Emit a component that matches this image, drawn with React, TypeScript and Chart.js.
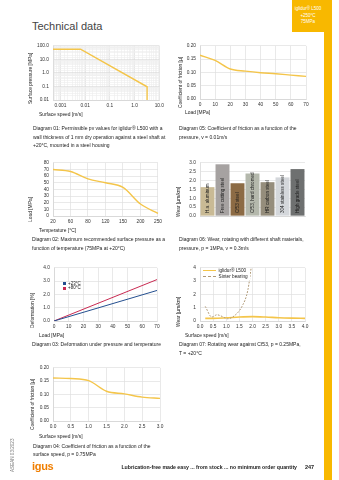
import React, { useEffect, useRef } from 'react';
import { Chart, registerables } from 'chart.js';

Chart.register(...registerables);

const FONT = '"Liberation Sans", Arial, Helvetica, sans-serif';

// ---------------- data ----------------
// Diagram 01: pv limits (log-log)
const d01Speed = [0.0005, 0.0065, 3.2, 3.2];
const d01Pressure = [57, 57, 0.095, 0.01];
const d01XTickLabels = ['0.001', '0.01', '0.1', '1.0', '10.0'];
const d01YTickLabels = ['0.01', '0.1', '1.0', '10.0', '100.0'];

// Diagram 05: coefficient of friction vs load
const d05Load = [0, 10, 20, 30, 40, 50, 60, 70];
const d05Cof = [0.165, 0.145, 0.113, 0.105, 0.099, 0.095, 0.09, 0.085];

// Diagram 02: max pressure vs temperature
const d02Temp = ['20', '60', '80', '120', '150', '200', '250'];
const d02Load = [70, 67, 56, 50, 43, 18, 4];

// Diagram 06: wear with shaft materials
const d06Materials = ['H.a. aluminum', 'Free cutting steel', 'Cf53 steel', 'Cf53, hard chromed', 'HR carbon steel', '304 stainless steel', 'High grade steel'];
const d06Wear = [1.63, 2.92, 1.85, 2.4, 1.91, 2.18, 2.65];
const d06Colors = ['#c9ba95', '#a6a2a1', '#8c6b45', '#b4b8ac', '#958d7c', '#d4d7db', '#6e7070'];

// Diagram 03: deformation
const d03Load = [0, 70];
const d03Def23 = [0, 2.3];
const d03Def80 = [0, 3.12];
const d03Series = ['+23°C', '+80°C'];

// Diagram 07: rotating wear
const d07SpeedL500 = [0.2, 0.5, 1.0, 1.5, 2.0, 2.5, 3.0, 3.5, 4.0];
const d07WearL500 = [0.2, 0.2, 0.24, 0.3, 0.33, 0.3, 0.25, 0.22, 0.2];
const d07SpeedSinter = [0.2, 0.45, 0.65, 0.8, 1.05, 1.3, 1.6, 1.82, 1.97];
const d07WearSinter = [1.1, 0.3, 0.47, 0.38, 0.17, 0.38, 1.1, 2.3, 4.3];
const d07Series = ['iglidur® L500', 'Sinter bearing'];

// Diagram 04: cof vs speed
const d04Speed = [0, 0.5, 1.0, 1.5, 2.0, 2.5, 3.0];
const d04Cof = [0.162, 0.16, 0.152, 0.112, 0.102, 0.09, 0.085];

// ---------------- styling ----------------
const YEL = '#f4c54a';
const GRID = '#e0e0e0';
const TICKC = '#333333';
const tickFont = { family: FONT, size: 4.8 };
const YW = 22;
const XH = 10;
const PT = 5;
const PR = 7;

type Rect = { L: number; T: number; R: number; B: number };

function axis(isY: boolean, o: any = {}) {
  const { ticks = {}, grid = {}, ...rest } = o;
  return {
    grid: { color: GRID, lineWidth: 0.7, drawTicks: false, ...grid },
    border: { color: '#d2d2d2', width: 0.7 },
    ticks: { font: tickFont, color: TICKC, padding: isY ? 4 : 3, autoSkip: false, maxRotation: 0, ...ticks },
    afterFit: (s: any) => {
      if (isY) s.width = YW;
      else s.height = XH;
    },
    ...rest,
  };
}

function ChartBox({ rect, build }: { rect: Rect; build: () => any }) {
  const ref = useRef<HTMLCanvasElement>(null);
  const left = rect.L - YW;
  const top = rect.T - PT;
  const w = rect.R + PR - left;
  const h = rect.B + XH - top;
  useEffect(() => {
    const cfg = build();
    cfg.options = {
      ...(cfg.options || {}),
      responsive: false,
      animation: false,
      devicePixelRatio: 1,
      layout: { padding: { left: 0, top: PT, right: PR, bottom: 0 } },
      plugins: { legend: { display: false }, tooltip: { enabled: false } },
    };
    const c = new Chart(ref.current as HTMLCanvasElement, cfg);
    return () => c.destroy();
  }, []);
  return <canvas ref={ref} width={w} height={h} style={{ position: 'absolute', left, top, width: w, height: h }} />;
}

const pts = (xs: number[], ys: number[]) => xs.map((x, i) => ({ x, y: ys[i] }));
const isPow10 = (v: number) => Math.abs(Math.log10(v) - Math.round(Math.log10(v))) < 1e-6;
const labelFor = (list: string[], v: number) => {
  const f = list.find((l) => Math.abs(parseFloat(l) - v) / v < 1e-6);
  return f ?? '';
};

const yellowLine = (data: any, smooth = true) => ({
  data,
  borderColor: YEL,
  borderWidth: 1.4,
  pointRadius: 0,
  fill: false,
  cubicInterpolationMode: smooth ? 'monotone' : 'default',
  tension: 0,
});

// ---------------- chart builders ----------------
const build01 = () => ({
  type: 'line',
  data: { datasets: [yellowLine(pts(d01Speed, d01Pressure), false)] },
  options: {
    scales: {
      x: axis(false, {
        type: 'logarithmic', min: 0.0005, max: 10,
        grid: { color: (c: any) => (isPow10(c.tick.value) ? '#dcdcdc' : '#efefef') },
        ticks: { callback: (v: number) => labelFor(d01XTickLabels, v) },
      }),
      y: axis(true, {
        type: 'logarithmic', min: 0.01, max: 100,
        grid: { color: (c: any) => (isPow10(c.tick.value) ? '#dcdcdc' : '#efefef') },
        ticks: { callback: (v: number) => labelFor(d01YTickLabels, v) },
      }),
    },
  },
});

const build05 = () => ({
  type: 'line',
  data: { datasets: [yellowLine(pts(d05Load, d05Cof))] },
  options: {
    scales: {
      x: axis(false, { type: 'linear', min: 0, max: 70, ticks: { stepSize: 10 } }),
      y: axis(true, { min: 0, max: 0.2, ticks: { stepSize: 0.05, callback: (v: number) => v.toFixed(2) } }),
    },
  },
});

const build02 = () => ({
  type: 'line',
  data: { labels: d02Temp, datasets: [yellowLine(d02Load)] },
  options: {
    scales: {
      x: axis(false, { type: 'category', offset: false }),
      y: axis(true, { min: 0, max: 80, ticks: { stepSize: 10 } }),
    },
  },
});

const barLabelPlugin = {
  id: 'barLabels',
  afterDatasetsDraw(chart: any) {
    const ctx = chart.ctx;
    const meta = chart.getDatasetMeta(0);
    ctx.save();
    ctx.font = `4.6px ${FONT}`;
    ctx.fillStyle = '#1a1a1a';
    ctx.textBaseline = 'middle';
    ctx.textAlign = 'left';
    meta.data.forEach((bar: any, i: number) => {
      ctx.save();
      ctx.translate(bar.x, chart.chartArea.bottom - 3);
      ctx.rotate(-Math.PI / 2);
      ctx.fillText(chart.data.labels[i], 0, 0);
      ctx.restore();
    });
    ctx.restore();
  },
};

const build06 = () => ({
  type: 'bar',
  data: {
    labels: d06Materials,
    datasets: [{ data: d06Wear, backgroundColor: d06Colors, barPercentage: 0.93, categoryPercentage: 1 }],
  },
  options: {
    scales: {
      x: axis(false, { grid: { display: false }, ticks: { display: false } }),
      y: axis(true, { min: 0, max: 3, ticks: { stepSize: 0.5, callback: (v: number) => v.toFixed(1) } }),
    },
  },
  plugins: [barLabelPlugin],
});

const build03 = () => ({
  type: 'line',
  data: {
    datasets: [
      { data: pts(d03Load, d03Def23), borderColor: '#244f8f', borderWidth: 1, pointRadius: 0, tension: 0 },
      { data: pts(d03Load, d03Def80), borderColor: '#c92a52', borderWidth: 1, pointRadius: 0, tension: 0 },
    ],
  },
  options: {
    scales: {
      x: axis(false, { type: 'linear', min: 0, max: 70, ticks: { stepSize: 10 } }),
      y: axis(true, { min: 0, max: 4, ticks: { stepSize: 1, callback: (v: number) => v.toFixed(1) } }),
    },
  },
});

const build07 = () => ({
  type: 'line',
  data: {
    datasets: [
      { data: pts(d07SpeedSinter, d07WearSinter), borderColor: '#b09a78', borderWidth: 1, borderDash: [1.8, 1.4], pointRadius: 0, cubicInterpolationMode: 'monotone' },
      { ...yellowLine(pts(d07SpeedL500, d07WearL500)), borderWidth: 1.6 },
    ],
  },
  options: {
    scales: {
      x: axis(false, { type: 'linear', min: 0, max: 4, ticks: { stepSize: 0.5, callback: (v: number) => v.toFixed(1) } }),
      y: axis(true, { min: 0, max: 4, ticks: { stepSize: 1 } }),
    },
  },
});

const build04 = () => ({
  type: 'line',
  data: { datasets: [yellowLine(pts(d04Speed, d04Cof))] },
  options: {
    scales: {
      x: axis(false, { type: 'linear', min: 0, max: 3, ticks: { stepSize: 0.5, callback: (v: number) => v.toFixed(1) } }),
      y: axis(true, { min: 0, max: 0.2, ticks: { stepSize: 0.05, callback: (v: number) => v.toFixed(2) } }),
    },
  },
});

// ---------------- text helpers ----------------
function Txt({ x, y, s = 5, c = '#222', w = 400, children, style = {} }: any) {
  return (
    <div style={{ position: 'absolute', left: x, top: y - s * 0.6, fontSize: s, lineHeight: `${s * 1.2}px`, color: c, fontWeight: w, whiteSpace: 'nowrap', fontFamily: FONT, ...style }}>
      {children}
    </div>
  );
}

function VTxt({ x, yb, s = 5, c = '#222', children }: any) {
  return (
    <div style={{ position: 'absolute', left: x - s * 0.6, top: yb, fontSize: s, lineHeight: `${s * 1.2}px`, color: c, whiteSpace: 'nowrap', fontFamily: FONT, transformOrigin: '0 0', transform: 'rotate(-90deg)' }}>
      {children}
    </div>
  );
}

const CAP = 5;
const TITLE = 4.9;

export default function App() {
  return (
    <div style={{ position: 'absolute', left: 0, top: 0, width: 339, height: 480, background: '#fff', overflow: 'hidden', fontFamily: FONT }}>
      {/* header */}
      <Txt x={32} y={27} s={11} c="#444">Technical data</Txt>
      <div style={{ position: 'absolute', left: 292, top: 0, width: 40, height: 32, background: '#f8b800' }} />
      <div style={{ position: 'absolute', left: 324, top: 0, width: 8, height: 480, background: '#f8b800' }} />
      <div style={{ position: 'absolute', left: 292, top: 6, width: 32, textAlign: 'center', color: '#fff', fontSize: 4.5, lineHeight: '6.5px', fontFamily: FONT }}>
        iglidur® L500<br />+250°C<br />75MPa
      </div>

      {/* Diagram 01 */}
      <ChartBox rect={{ L: 53, T: 44, R: 160, B: 100 }} build={build01} />
      <VTxt x={31} yb={104} s={TITLE}>Surface pressure [MPa]</VTxt>
      <Txt x={39} y={115} s={TITLE}>Surface speed [m/s]</Txt>
      <Txt x={33} y={128} s={CAP}>Diagram 01: Permissible pv values for iglidur® L500 with a</Txt>
      <Txt x={33} y={136.5} s={CAP}>wall thickness of 1 mm dry operation against a steel shaft at</Txt>
      <Txt x={33} y={145} s={CAP}>+20°C, mounted in a steel housing</Txt>

      {/* Diagram 05 */}
      <ChartBox rect={{ L: 200, T: 44, R: 306, B: 99 }} build={build05} />
      <VTxt x={180.5} yb={108} s={TITLE}>Coefficient of friction [µ]</VTxt>
      <Txt x={185} y={113} s={TITLE}>Load [MPa]</Txt>
      <Txt x={179} y={128} s={CAP}>Diagram 05: Coefficient of friction as a function of the</Txt>
      <Txt x={179} y={136.5} s={CAP}>pressure, v = 0.01m/s</Txt>

      {/* Diagram 02 */}
      <ChartBox rect={{ L: 53, T: 161, R: 158, B: 216 }} build={build02} />
      <VTxt x={30.5} yb={222} s={TITLE}>Load [MPa]</VTxt>
      <Txt x={39} y={230.5} s={TITLE}>Temperature [°C]</Txt>
      <Txt x={32} y={239} s={CAP}>Diagram 02: Maximum recommended surface pressure as a</Txt>
      <Txt x={32} y={247.5} s={CAP}>function of temperature (75MPa at +20°C)</Txt>

      {/* Diagram 06 */}
      <ChartBox rect={{ L: 200, T: 161, R: 305, B: 216 }} build={build06} />
      <VTxt x={179} yb={217} s={TITLE}>Wear [µm/km]</VTxt>
      <Txt x={179} y={239} s={CAP}>Diagram 06: Wear, rotating with different shaft materials,</Txt>
      <Txt x={179} y={247.5} s={CAP}>pressure, p = 1MPa, v = 0.3m/s</Txt>

      {/* Diagram 03 */}
      <ChartBox rect={{ L: 54, T: 266, R: 157, B: 321 }} build={build03} />
      <div style={{ position: 'absolute', left: 62, top: 281.5, background: '#fff', padding: '0 1px', fontSize: 4.5, lineHeight: '4.7px', fontFamily: FONT, color: '#222' }}>
        {d03Series.map((s, i) => (
          <div key={s} style={{ display: 'flex', alignItems: 'center' }}>
            <span style={{ display: 'inline-block', width: 3, height: 3, background: i === 0 ? '#244f8f' : '#c92a52', marginRight: 2 }} />
            {s}
          </div>
        ))}
      </div>
      <VTxt x={33} yb={328} s={TITLE}>Deformation [%]</VTxt>
      <Txt x={39} y={335.7} s={TITLE}>Load [MPa]</Txt>
      <Txt x={32} y={344} s={CAP}>Diagram 03: Deformation under pressure and temperature</Txt>

      {/* Diagram 07 */}
      <ChartBox rect={{ L: 200, T: 266, R: 305, B: 321 }} build={build07} />
      <div style={{ position: 'absolute', left: 201.5, top: 267.5, background: '#fff', padding: '0 2px 0 1px', fontSize: 4.7, lineHeight: '6px', fontFamily: FONT, color: '#222' }}>
        <div style={{ display: 'flex', alignItems: 'center' }}>
          <span style={{ display: 'inline-block', width: 13, height: 0, borderTop: `1.6px solid ${YEL}`, marginRight: 3 }} />
          {d07Series[0]}
        </div>
        <div style={{ display: 'flex', alignItems: 'center' }}>
          <span style={{ display: 'inline-block', width: 13, height: 0, borderTop: '1px dashed #b09a78', marginRight: 3 }} />
          {d07Series[1]}
        </div>
      </div>
      <VTxt x={179} yb={327} s={TITLE}>Wear [µm/km]</VTxt>
      <Txt x={185} y={335.7} s={TITLE}>Surface speed [m/s]</Txt>
      <Txt x={179} y={344} s={CAP}>Diagram 07: Rotating wear against Cf53, p = 0.25MPa,</Txt>
      <Txt x={179} y={352.5} s={CAP}>T = +20°C</Txt>

      {/* Diagram 04 */}
      <ChartBox rect={{ L: 53, T: 366, R: 160, B: 421 }} build={build04} />
      <VTxt x={33} yb={430} s={TITLE}>Coefficient of friction [µ]</VTxt>
      <Txt x={39} y={437} s={TITLE}>Surface speed [m/s]</Txt>
      <Txt x={33} y={445.5} s={CAP}>Diagram 04: Coefficient of friction as a function of the</Txt>
      <Txt x={33} y={454} s={CAP}>surface speed, p = 0.75MPa</Txt>

      {/* footer */}
      <VTxt x={13} yb={472} s={4.6} c="#777">ASEAN 03/2023</VTxt>
      <Txt x={32} y={467} s={11} c="#f07e00" w={700} style={{ letterSpacing: -0.3 }}>igus</Txt>
      <div style={{ position: 'absolute', right: 42, top: 467 - 3.1, fontSize: 5.2, lineHeight: '6.2px', fontWeight: 600, color: '#222', whiteSpace: 'nowrap', fontFamily: FONT }}>
        Lubrication-free made easy ... from stock ... no minimum order quantity
      </div>
      <Txt x={305} y={467} s={5.5} w={700}>247</Txt>
    </div>
  );
}
